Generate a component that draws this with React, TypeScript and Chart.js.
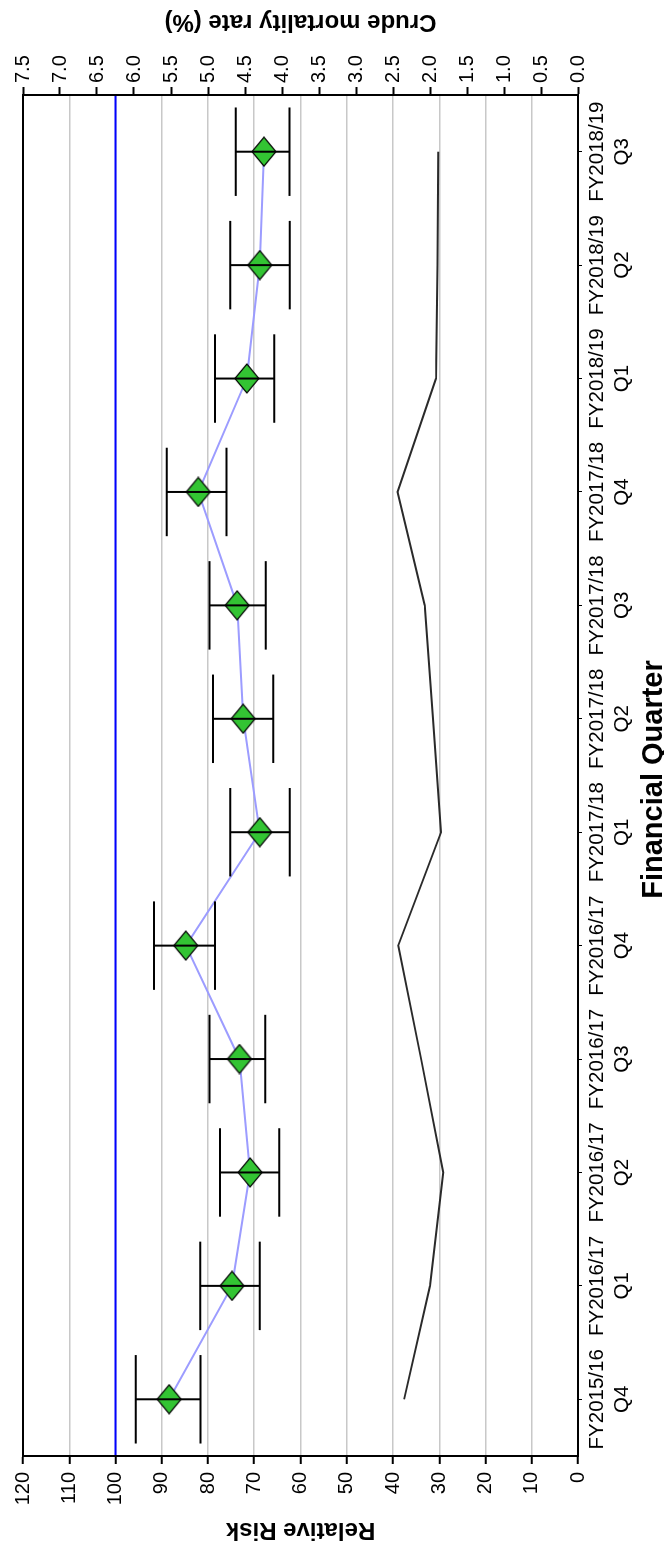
import React, { useEffect, useRef } from 'react';
import { Chart, registerables } from 'chart.js';

Chart.register(...registerables);

const W = 1549;
const H = 664;
const FONT = "'Liberation Sans', Arial, Helvetica, sans-serif";

const categories: string[][] = [
  ['FY2015/16', 'Q4'],
  ['FY2016/17', 'Q1'],
  ['FY2016/17', 'Q2'],
  ['FY2016/17', 'Q3'],
  ['FY2016/17', 'Q4'],
  ['FY2017/18', 'Q1'],
  ['FY2017/18', 'Q2'],
  ['FY2017/18', 'Q3'],
  ['FY2017/18', 'Q4'],
  ['FY2018/19', 'Q1'],
  ['FY2018/19', 'Q2'],
  ['FY2018/19', 'Q3'],
];

const relativeRisk = [88.4, 74.8, 70.9, 73.2, 84.8, 68.8, 72.4, 73.7, 82.1, 71.6, 68.8, 67.9];
const rrLower = [81.6, 68.8, 64.6, 67.6, 78.5, 62.3, 65.9, 67.5, 76.0, 65.7, 62.3, 62.4];
const rrUpper = [95.6, 81.7, 77.4, 79.7, 91.7, 75.2, 78.9, 79.7, 88.9, 78.5, 75.2, 74.0];
const crudeMortality = [2.35, 2.0, 1.82, 2.12, 2.43, 1.85, 1.96, 2.07, 2.44, 1.92, 1.9, 1.89];
const targetRR = 100;

const rrAxis = { min: 0, max: 120, step: 10 };
const crudeAxis = { min: 0, max: 7.5, step: 0.5 };

const leftTitle = 'Relative Risk';
const rightTitle = 'Crude mortality rate (%)';
const bottomTitle = 'Financial Quarter';

function makeDiamond(): HTMLCanvasElement {
  const c = document.createElement('canvas');
  c.width = 31;
  c.height = 26;
  const g = c.getContext('2d')!;
  g.beginPath();
  g.moveTo(15.5, 1);
  g.lineTo(30, 13);
  g.lineTo(15.5, 25);
  g.lineTo(1, 13);
  g.closePath();
  g.fillStyle = '#33c433';
  g.fill();
  g.strokeStyle = '#000';
  g.lineWidth = 1.2;
  g.stroke();
  return c;
}

const decorPlugin = {
  id: 'decor',
  beforeDatasetsDraw(chart: any) {
    const { ctx, chartArea: a, scales } = chart;
    const y = scales.y.getPixelForValue(targetRR);
    ctx.save();
    ctx.strokeStyle = '#0000ff';
    ctx.lineWidth = 2;
    ctx.beginPath();
    ctx.moveTo(a.left, y);
    ctx.lineTo(a.right, y);
    ctx.stroke();
    ctx.strokeStyle = '#000';
    ctx.lineWidth = 2;
    ctx.strokeRect(a.left, a.top, a.right - a.left, a.bottom - a.top);
    ctx.restore();
  },
  afterDatasetsDraw(chart: any) {
    const { ctx, scales } = chart;
    const xs = scales.x;
    const ys = scales.y;
    const half = (xs.getPixelForValue(1) - xs.getPixelForValue(0)) * 0.39;
    ctx.save();
    ctx.strokeStyle = '#000';
    ctx.lineWidth = 2;
    ctx.beginPath();
    for (let i = 0; i < relativeRisk.length; i++) {
      const x = xs.getPixelForValue(i);
      const yl = ys.getPixelForValue(rrLower[i]);
      const yh = ys.getPixelForValue(rrUpper[i]);
      ctx.moveTo(x, yl);
      ctx.lineTo(x, yh);
      ctx.moveTo(x - half, yl);
      ctx.lineTo(x + half, yl);
      ctx.moveTo(x - half, yh);
      ctx.lineTo(x + half, yh);
    }
    ctx.stroke();
    ctx.restore();
  },
  afterDraw(chart: any) {
    const { ctx, chartArea: a } = chart;
    const cy = (a.top + a.bottom) / 2;
    ctx.save();
    ctx.fillStyle = '#000';
    ctx.font = `bold 24px ${FONT}`;
    ctx.textAlign = 'center';
    ctx.textBaseline = 'middle';
    ctx.save();
    ctx.translate(19, cy);
    ctx.rotate(-Math.PI / 2);
    ctx.fillText(leftTitle, 0, 0);
    ctx.restore();
    ctx.save();
    ctx.translate(W - 22, cy);
    ctx.rotate(-Math.PI / 2);
    ctx.fillText(rightTitle, 0, 0);
    ctx.restore();
    ctx.font = `bold 29px ${FONT}`;
    ctx.textBaseline = 'alphabetic';
    ctx.fillText(bottomTitle, (a.left + a.right) / 2 - 4, 662);
    ctx.restore();
  },
};

export default function App() {
  const ref = useRef<HTMLCanvasElement | null>(null);

  useEffect(() => {
    if (!ref.current) return;
    Chart.defaults.font.family = FONT;
    const diamond = makeDiamond();
    const chart = new Chart(ref.current, {
      type: 'line',
      data: {
        labels: categories,
        datasets: [
          {
            label: 'Crude mortality rate',
            data: crudeMortality,
            yAxisID: 'y1',
            borderColor: '#2a2a2a',
            borderWidth: 2,
            pointRadius: 0,
            fill: false,
            tension: 0,
          },
          {
            label: 'Relative Risk',
            data: relativeRisk,
            yAxisID: 'y',
            borderColor: '#9c9cff',
            borderWidth: 2,
            pointStyle: diamond as any,
            pointRadius: 13,
            fill: false,
            tension: 0,
          },
        ],
      },
      options: {
        animation: false,
        responsive: false,
        maintainAspectRatio: false,
        layout: { padding: { top: 23, left: 0, right: 0, bottom: 0 } },
        plugins: {
          legend: { display: false },
          tooltip: { enabled: false },
        },
        scales: {
          x: {
            type: 'category',
            offset: true,
            grid: {
              display: true,
              drawOnChartArea: false,
              offset: false,
              tickLength: 4,
              tickColor: '#000',
            },
            border: { display: true, color: '#000', width: 2 },
            ticks: {
              color: '#000',
              font: { size: 20.5 },
              padding: 3,
              maxRotation: 0,
              minRotation: 0,
              autoSkip: false,
            },
            afterFit(scale: any) {
              scale.height = 86;
            },
          },
          y: {
            position: 'left',
            min: rrAxis.min,
            max: rrAxis.max,
            grid: {
              color: '#c8c8c8',
              lineWidth: 1.5,
              tickColor: '#000',
              tickLength: 8,
              tickWidth: 2,
            },
            border: { display: true, color: '#000', width: 2 },
            ticks: {
              stepSize: rrAxis.step,
              color: '#000',
              font: { size: 20 },
              padding: 8,
            },
            afterFit(scale: any) {
              scale.width = 93;
            },
          },
          y1: {
            position: 'right',
            min: crudeAxis.min,
            max: crudeAxis.max,
            grid: {
              drawOnChartArea: false,
              tickColor: '#000',
              tickLength: 8,
              tickWidth: 2,
            },
            border: { display: true, color: '#000', width: 2 },
            ticks: {
              stepSize: crudeAxis.step,
              color: '#000',
              font: { size: 20 },
              padding: 4,
              callback: (v: any) => Number(v).toFixed(1),
            },
            afterFit(scale: any) {
              scale.width = 95;
            },
          },
        },
      },
      plugins: [decorPlugin],
    });
    return () => chart.destroy();
  }, []);

  return (
    <div
      style={{
        position: 'absolute',
        top: 0,
        left: 0,
        width: 664,
        height: 1549,
        overflow: 'hidden',
        background: '#fff',
      }}
    >
      <div
        style={{
          position: 'absolute',
          top: 0,
          left: 0,
          width: W,
          height: H,
          transformOrigin: 'top left',
          transform: `translateY(${W}px) rotate(-90deg)`,
        }}
      >
        <canvas ref={ref} width={W} height={H} style={{ display: 'block' }} />
      </div>
    </div>
  );
}
